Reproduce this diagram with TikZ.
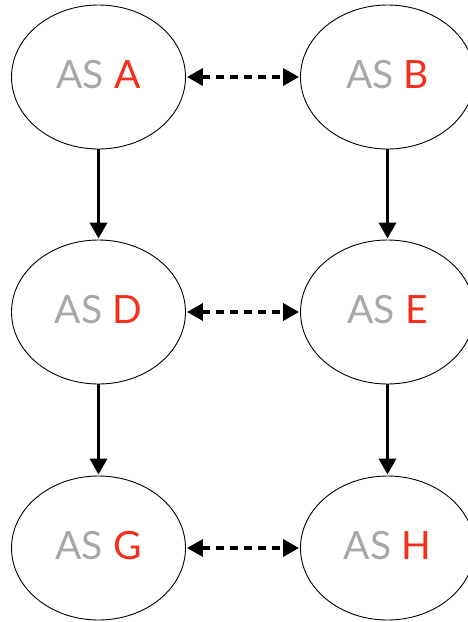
\documentclass[tikz,border=0pt]{standalone}
\usepackage{fontspec}
\setmainfont{Lato}
\usetikzlibrary{shapes.geometric,arrows.meta}
\definecolor{asgray}{RGB}{168,168,168}
\definecolor{asred}{RGB}{242,48,28}
\tikzset{
  asnode/.style={draw=black, line width=0.9pt, ellipse, minimum width=174pt, minimum height=144pt, inner sep=0pt,
    font=\fontsize{39}{44}\selectfont, text height=28pt, text depth=6pt},
  peer/.style={line width=3.5pt, dash pattern=on 8pt off 6pt, {Triangle[length=16pt,width=17pt]}-{Triangle[length=16pt,width=17pt]}, shorten <=1pt, shorten >=1pt},
  cust/.style={line width=3.8pt, -{Triangle[length=16pt,width=17pt]}, shorten >=1pt}
}
\newcommand{\aslabel}[1]{\textcolor{asgray}{AS} \textcolor{asred}{#1}}
\begin{document}
\begin{tikzpicture}[x=1pt,y=1pt]
\useasboundingbox (0,0) rectangle (467,-622);
\node[asnode] (A) at (98.5,-77) {\aslabel{A}};
\node[asnode] (B) at (387.5,-77) {\aslabel{B}};
\node[asnode] (D) at (98.5,-312) {\aslabel{D}};
\node[asnode] (E) at (387.5,-312) {\aslabel{E}};
\node[asnode] (G) at (98.5,-548) {\aslabel{G}};
\node[asnode] (H) at (387.5,-548) {\aslabel{H}};
\draw[peer] (A) -- (B);
\draw[peer] (D) -- (E);
\draw[peer] (G) -- (H);
\draw[cust] (A) -- (D);
\draw[cust] (B) -- (E);
\draw[cust] (D) -- (G);
\draw[cust] (E) -- (H);
\end{tikzpicture}
\end{document}
